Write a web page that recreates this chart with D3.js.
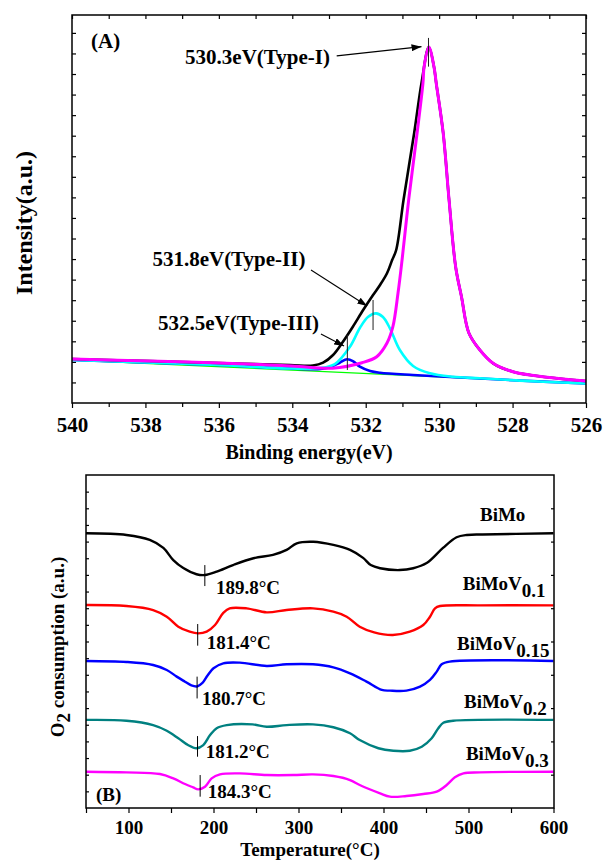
<!DOCTYPE html>
<html>
<head>
<meta charset="utf-8">
<script src="https://cdn.jsdelivr.net/npm/d3@7"></script>
<style>
    body { margin: 0; background: #fff; }
    svg text { font-family: "Liberation Serif", "Times New Roman", serif; font-weight: bold; fill: #000; }
</style>
</head>
<body>
<svg id="chart" width="604" height="862"></svg>
<script>
// ---------- panel A : O 1s XPS (binding energy eV, intensity a.u.) ----------
const baseline = [[540, 21.8], [526, -1.1]];
const typeI = [[540, 22.8], [537.9, 20.8], [536, 18.9], [534, 16.0], [532.9, 13.9], [532.1, 19.2], [531.7, 25.0],
    [531.42, 38.3], [531.26, 54.2], [531.12, 87.0], [531.01, 119.1], [530.83, 177.5], [530.6, 242.7], [530.44, 291.3],
    [530.41, 306.8], [530.28, 326.3], [530.14, 306.8], [530.08, 291.3], [529.89, 242.7], [529.73, 177.5], [529.55, 112.3],
    [529.39, 83.1], [529.19, 48.1], [528.89, 31.5], [528.53, 18.6], [527.99, 10.4], [527.06, 5.0], [526, 1.4]];
const envelope = [[540, 22.8], [537.9, 20.8], [536, 18.9], [534.06, 16.9], [533.44, 16.4], [533.16, 19.2], [532.89, 26.7],
    [532.62, 39.6], [532.35, 54.2], [532.07, 70.4], [531.8, 85.0], [531.61, 94.8], [531.42, 106.2], [531.28, 119.1],
    [531.17, 128.8], [530.97, 177.5], [530.68, 242.7], [530.48, 291.3], [530.28, 326.3], [530.14, 306.8], [530.08, 291.3],
    [529.89, 242.7], [529.73, 177.5], [529.55, 112.3], [529.39, 83.1], [529.19, 48.1], [528.89, 31.5], [528.53, 18.6],
    [527.99, 10.4], [527.06, 5.0], [526, 1.4]];
const typeII = [[540, 21.8], [536, 16.9], [534, 13.5], [533.24, 14.0], [532.84, 17.9], [532.43, 34.7], [532.16, 52.9],
    [531.94, 63.6], [531.72, 67.2], [531.53, 63.6], [531.34, 52.6], [531.07, 31.5], [530.71, 16.0], [530.25, 8.9],
    [529.62, 5.5], [528.89, 4.0], [527.8, 1.8], [526, -1.1]];
const typeIII = [[540, 21.8], [536, 16.9], [534, 13.5], [533.24, 13.0], [532.97, 14.7], [532.7, 19.4], [532.51, 22.5],
    [532.35, 20.8], [532.16, 15.3], [531.88, 11.1], [531.61, 9.4], [530.71, 7.2], [529.7, 5.3], [528.34, 2.8], [526, -1.1]];

const peakEv = [530.29, 531.8, 532.5];
const peakNames = ['530.3eV(Type-I)', '531.8eV(Type-II)', '532.5eV(Type-III)'];
const peakMarkRange = [[307.2, 335.1], [51.0, 80.2], [12.1, 46.1]];
const peakLabelAt = [[536.92, 309.8], [537.81, 113.1], [537.66, 51.0]];
const peakArrows = [[532.79, 317.6, 530.48, 326.6], [533.49, 109.4, 531.96, 74.3], [533.22, 47.1, 532.59, 35.4]];

const evMajor = [540, 538, 536, 534, 532, 530, 528, 526];
const evMinor = [539, 537, 535, 533, 531, 529, 527];

// ---------- panel B : O2-TPD (temperature C, a.u.) ----------
const samples = ['BiMo', 'BiMoV', 'BiMoV', 'BiMoV', 'BiMoV'];
const sampleSub = ['', '0.1', '0.15', '0.2', '0.3'];
const sampleColors = ['#000000', '#ff0000', '#0000ff', '#008080', '#ff00ff'];

const tpdBiMo = [[50, 16.50], [97.6, 16.40], [125, 16.10], [141, 15.62], [152.7, 14.89], [164.5, 14.41], [180, 14.04],
    [190, 13.99], [203.7, 14.19], [223, 14.59], [247, 15.00], [270, 15.20], [286, 15.50], [298, 15.90], [317.4, 15.99],
    [341, 15.80], [360.6, 15.50], [376, 15.02], [385, 14.59], [396, 14.40], [419, 14.29], [435, 14.40], [450.8, 14.71],
    [470, 15.62], [486, 16.26], [498, 16.40], [516.6, 16.43], [600, 16.50]];
const tpdV01 = [[50, 12.19], [97.6, 12.13], [129, 11.89], [145, 11.49], [158.6, 10.89], [172, 10.59], [182, 10.49],
    [192, 10.59], [201.8, 10.99], [211.5, 11.72], [219, 11.99], [239, 11.99], [262.6, 11.75], [286, 11.89], [317, 11.99],
    [341, 11.79], [356.7, 11.49], [372, 10.89], [389, 10.55], [411, 10.39], [431, 10.59], [446.8, 10.99], [454.7, 11.49],
    [460.6, 11.99], [466.5, 12.13], [513.5, 12.17], [600, 12.17]];
const tpdV015 = [[50, 8.83], [97.6, 8.77], [129, 8.59], [145, 8.29], [156.7, 7.89], [166, 7.60], [174, 7.36], [180.7, 7.30],
    [187, 7.51], [193, 7.96], [200, 8.39], [211.5, 8.69], [231, 8.73], [262.6, 8.53], [286, 8.63], [317, 8.63], [341, 8.45],
    [360.6, 8.09], [380, 7.59], [398, 7.09], [407.6, 7.05], [427, 7.05], [443, 7.29], [454.7, 7.69], [462.6, 8.19],
    [468.4, 8.63], [478, 8.79], [600, 8.83]];
const tpdV02 = [[50, 5.29], [97.6, 5.24], [129, 4.98], [145, 4.64], [158.6, 4.19], [170, 3.78], [180, 3.59], [188, 3.78],
    [196, 4.38], [203.7, 4.79], [215.5, 4.98], [246, 5.02], [262.6, 4.88], [286, 4.98], [317, 5.02], [341, 4.85],
    [360.6, 4.49], [372, 4.08], [394, 3.59], [411.5, 3.44], [431, 3.44], [445, 3.68], [456.7, 4.19], [464.5, 4.79],
    [470.4, 5.12], [482, 5.24], [600, 5.29]];
const tpdV03 = [[50, 2.18], [97.6, 2.14], [137, 2.04], [152.7, 1.78], [166.5, 1.44], [176, 1.24], [182, 1.12], [190, 1.28],
    [197.8, 1.78], [207.6, 2.02], [231, 2.08], [262.6, 1.98], [294, 1.98], [317, 2.02], [341, 1.92], [360.6, 1.68],
    [372, 1.38], [396, 0.88], [407.6, 0.68], [427, 0.72], [446.8, 0.84], [462.6, 0.98], [474.3, 1.38], [484, 1.84],
    [494, 2.08], [513.5, 2.14], [600, 2.18]];
const tpdSeries = [tpdBiMo, tpdV01, tpdV015, tpdV02, tpdV03];

const peakTemps = [189.8, 181.4, 180.7, 181.2, 184.3];
const tempMarkRange = [[13.33, 14.59], [9.75, 11.05], [6.58, 7.89], [3.08, 4.32], [0.68, 1.98]];
const tempLabelAt = [[202.9, 12.88], [192, 9.55], [186.5, 6.19], [190.8, 3.00], [193.2, 0.60]];
const sampleLabelAt = [[513.5, 17.21], [493.2, 13.09], [486.5, 9.49], [494.7, 6.01], [497, 2.88]];

const tempMajor = [100, 200, 300, 400, 500, 600];
const tempMinor = [50, 150, 250, 350, 450, 550];

// ---------- drawing ----------
const svg = d3.select('#chart');

svg.append('defs').append('marker')
    .attr('id', 'arrow')
    .attr('markerUnits', 'userSpaceOnUse')
    .attr('markerWidth', 10).attr('markerHeight', 7)
    .attr('refX', 10).attr('refY', 3.5)
    .attr('orient', 'auto')
    .append('path')
    .attr('d', 'M0,0 L10,3.5 L0,7 Z')
    .attr('fill', '#000');

function styleAxis(g, size) {
    g.select('.domain').remove();
    g.attr('font-size', size).attr('font-family', null);
    g.selectAll('.tick line').attr('stroke', '#000').attr('stroke-width', 1.2);
}

// smooth curves through the read points
const smooth = d3.curveCatmullRom.alpha(0.5);

// panel A
const xA = d3.scaleLinear().domain([540, 526]).range([72, 586]);
const yA = d3.scaleLinear().domain([-20, 357.4]).range([403, 15]);
const gA = svg.append('g');

gA.append('g').attr('transform', `translate(0,${yA.range()[0]})`)
    .call(d3.axisBottom(xA).tickValues(evMajor).tickSize(5).tickPadding(9).tickFormat(d3.format('d')))
    .call(g => styleAxis(g, 21));
gA.append('g').attr('transform', `translate(0,${yA.range()[0]})`)
    .call(d3.axisBottom(xA).tickValues(evMinor).tickSize(4).tickFormat(''))
    .call(g => styleAxis(g, 21));
gA.append('g').attr('transform', `translate(0,${yA.range()[1]})`)
    .call(d3.axisTop(xA).tickValues(evMajor.concat(evMinor)).tickSize(-4).tickFormat(''))
    .call(g => styleAxis(g, 21));
const yTicksA = d3.range(0, 357, 20);
gA.append('g').attr('transform', `translate(${xA.range()[0]},0)`)
    .call(d3.axisLeft(yA).tickValues(yTicksA).tickSize(-4).tickFormat(''))
    .call(g => styleAxis(g, 21));
gA.append('g').attr('transform', `translate(${xA.range()[1]},0)`)
    .call(d3.axisRight(yA).tickValues(yTicksA).tickSize(-4).tickFormat(''))
    .call(g => styleAxis(g, 21));

const lineA = d3.line().x(d => xA(d[0])).y(d => yA(d[1])).curve(smooth);
const curvesA = [
    { data: baseline, color: '#00ff00', width: 1.2 },
    { data: typeIII, color: '#0000ff', width: 2.6 },
    { data: typeII, color: '#00ffff', width: 2.6 },
    { data: envelope, color: '#000000', width: 2.6 },
    { data: typeI, color: '#ff00ff', width: 3 }
];
gA.selectAll('.curveA').data(curvesA).enter().append('path')
    .attr('class', 'curveA')
    .attr('d', d => lineA(d.data))
    .attr('fill', 'none')
    .attr('stroke', d => d.color)
    .attr('stroke-width', d => d.width)
    .attr('stroke-linejoin', 'round');

// peak markers, arrows, labels
peakEv.forEach((ev, i) => {
    gA.append('line')
        .attr('x1', xA(ev)).attr('x2', xA(ev))
        .attr('y1', yA(peakMarkRange[i][0])).attr('y2', yA(peakMarkRange[i][1]))
        .attr('stroke', '#222').attr('stroke-width', 1);
    const a = peakArrows[i];
    gA.append('line')
        .attr('x1', xA(a[0])).attr('y1', yA(a[1]))
        .attr('x2', xA(a[2])).attr('y2', yA(a[3]))
        .attr('stroke', '#000').attr('stroke-width', 1.1)
        .attr('marker-end', 'url(#arrow)');
    gA.append('text')
        .attr('x', xA(peakLabelAt[i][0])).attr('y', yA(peakLabelAt[i][1]))
        .style('font-size', '21px')
        .text(peakNames[i]);
});

gA.append('text').attr('x', xA(539.48)).attr('y', yA(325.3)).style('font-size', '21px').text('(A)');

gA.append('rect')
    .attr('x', 72).attr('y', 15).attr('width', 514).attr('height', 388)
    .attr('fill', 'none').attr('stroke', '#000').attr('stroke-width', 1.5);

gA.append('text')
    .attr('x', 309).attr('y', 459)
    .attr('text-anchor', 'middle')
    .style('font-size', '20px')
    .text('Binding energy(eV)');
gA.append('text')
    .attr('transform', 'translate(32,223) rotate(-90)')
    .attr('text-anchor', 'middle')
    .style('font-size', '24px')
    .text('Intensity(a.u.)');

// panel B
const xB = d3.scaleLinear().domain([50, 600]).range([86, 553.5]);
const yB = d3.scaleLinear().domain([0, 20]).range([808, 475]);
const gB = svg.append('g');

gB.append('g').attr('transform', `translate(0,${yB.range()[0]})`)
    .call(d3.axisBottom(xB).tickValues(tempMajor).tickSize(5).tickPadding(8).tickFormat(d3.format('d')))
    .call(g => styleAxis(g, 19));
gB.append('g').attr('transform', `translate(0,${yB.range()[0]})`)
    .call(d3.axisBottom(xB).tickValues(tempMinor).tickSize(5).tickFormat(''))
    .call(g => styleAxis(g, 19));
gB.append('g').attr('transform', 'translate(86,0)')
    .call(d3.axisLeft(yB).tickValues(d3.range(1, 20, 1)).tickSize(-3).tickFormat(''))
    .call(g => styleAxis(g, 19));
gB.append('g').attr('transform', 'translate(554,0)')
    .call(d3.axisRight(yB).tickValues(d3.range(2, 20, 2)).tickSize(-3).tickFormat(''))
    .call(g => styleAxis(g, 19));

const lineB = d3.line().x(d => xB(d[0])).y(d => yB(d[1])).curve(smooth);
gB.selectAll('.curveB').data(tpdSeries).enter().append('path')
    .attr('class', 'curveB')
    .attr('d', d => lineB(d))
    .attr('fill', 'none')
    .attr('stroke', (d, i) => sampleColors[i])
    .attr('stroke-width', 2.4)
    .attr('stroke-linejoin', 'round');

peakTemps.forEach((t, i) => {
    gB.append('line')
        .attr('x1', xB(t)).attr('x2', xB(t))
        .attr('y1', yB(tempMarkRange[i][0])).attr('y2', yB(tempMarkRange[i][1]))
        .attr('stroke', '#000').attr('stroke-width', 1);
    gB.append('text')
        .attr('x', xB(tempLabelAt[i][0])).attr('y', yB(tempLabelAt[i][1]))
        .style('font-size', '19px')
        .text(t.toFixed(1) + '\u00b0C');
    const lab = gB.append('text')
        .attr('x', xB(sampleLabelAt[i][0])).attr('y', yB(sampleLabelAt[i][1]))
        .style('font-size', '19px')
        .text(samples[i]);
    if (sampleSub[i]) {
        lab.append('tspan').attr('dy', 7).text(sampleSub[i]);
    }
});

gB.append('text').attr('x', xB(61.8)).attr('y', yB(0.42)).style('font-size', '19px').text('(B)');

gB.append('rect')
    .attr('x', 86).attr('y', 475).attr('width', 468).attr('height', 333)
    .attr('fill', 'none').attr('stroke', '#000').attr('stroke-width', 1.5);

gB.append('text')
    .attr('x', 310).attr('y', 856)
    .attr('text-anchor', 'middle')
    .style('font-size', '19px')
    .text('Temperature(\u00b0C)');
const yl = gB.append('text')
    .attr('transform', 'translate(64,647) rotate(-90)')
    .attr('text-anchor', 'middle')
    .style('font-size', '19px');
yl.append('tspan').text('O');
yl.append('tspan').attr('dy', 6).text('2');
yl.append('tspan').attr('dy', -6).text(' consumption (a.u.)');
</script>
</body>
</html>
